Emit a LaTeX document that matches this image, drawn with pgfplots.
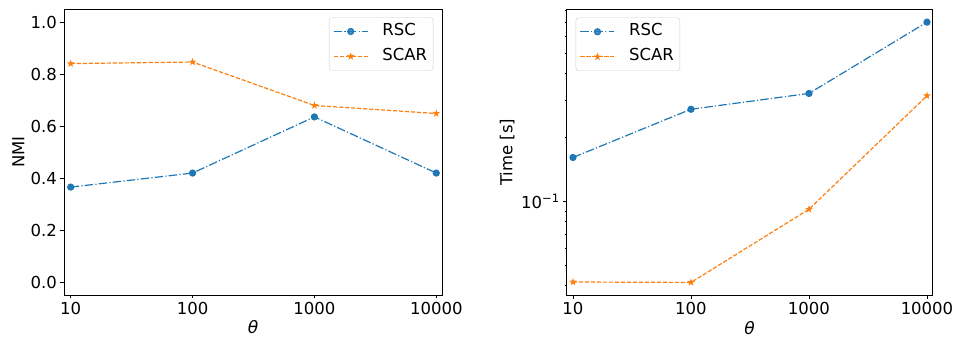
\documentclass[border=0pt]{standalone}
\usepackage{fontspec}
\setmainfont{DejaVu Sans}
\usepackage{pgfplots}
\pgfplotsset{compat=1.18}
\definecolor{tabblue}{HTML}{1F77B4}
\definecolor{taborange}{HTML}{FF7F0E}
\pgfdeclareplotmark{fstar}{%
 \pgfpathmoveto{\pgfpointpolar{90}{\pgfplotmarksize}}%
 \pgfpathlineto{\pgfpointpolar{126}{0.4\pgfplotmarksize}}%
 \pgfpathlineto{\pgfpointpolar{162}{\pgfplotmarksize}}%
 \pgfpathlineto{\pgfpointpolar{198}{0.4\pgfplotmarksize}}%
 \pgfpathlineto{\pgfpointpolar{234}{\pgfplotmarksize}}%
 \pgfpathlineto{\pgfpointpolar{270}{0.4\pgfplotmarksize}}%
 \pgfpathlineto{\pgfpointpolar{306}{\pgfplotmarksize}}%
 \pgfpathlineto{\pgfpointpolar{342}{0.4\pgfplotmarksize}}%
 \pgfpathlineto{\pgfpointpolar{18}{\pgfplotmarksize}}%
 \pgfpathlineto{\pgfpointpolar{54}{0.4\pgfplotmarksize}}%
 \pgfpathclose\pgfusepathqfillstroke}
\pgfplotsset{
 mystyle/.style={
  scale only axis, height=286pt,
  anchor=south west,
  axis line style={line width=0.8pt},
  tick align=outside, tick pos=left,
  major tick length=3.5pt, minor tick length=2pt,
  every tick/.style={black, line width=0.8pt},
  tick label style={font=\fontsize{16.5}{19}\selectfont},
  /pgf/number format/assume math mode=true,
  xmin=-0.055, xmax=3.047,
  xtick={0,1,2,3}, xticklabels={10,100,1000,10000},
  xlabel={\itshape θ},
  every axis x label/.style={at={(axis description cs:0.5,-0.136)}, anchor=base, font=\fontsize{17}{19}\selectfont},
  legend cell align=left,
  legend image code/.code={\draw[##1, mark repeat=2, mark phase=2] plot coordinates {(0pt,0pt) (17pt,0pt) (34pt,0pt)}; \path (46pt,0pt);},
  legend style={draw=black!20, rounded corners=3pt, fill=white, fill opacity=0.8, text opacity=1,
    font=\fontsize{16.5}{19}\selectfont, inner sep=4pt, row sep=5pt,
    nodes={inner sep=2pt, text height=12pt, text depth=4pt}},
 },
 rsc/.style={color=tabblue, line width=1.2pt, dash pattern=on 8.5pt off 2.2pt on 1.2pt off 2.2pt, mark=*, mark size=3pt, mark options={solid}},
 scar/.style={color=taborange, line width=1.2pt, dash pattern=on 4.2pt off 1.8pt, mark=fstar, mark size=2.2pt, mark options={solid}},
}
\begin{document}
\begin{tikzpicture}
\path[use as bounding box] (0,0) rectangle (956pt,339pt);
\begin{axis}[mystyle, at={(64pt,44pt)}, width=378pt,
  ymin=-0.05, ymax=1.05,
  ytick={0,0.2,0.4,0.6,0.8,1.0}, yticklabels={0.0,0.2,0.4,0.6,0.8,1.0},
  ylabel={NMI},
  every axis y label/.style={at={(axis description cs:-0.121,0.5)}, rotate=90, anchor=center, font=\fontsize{16.5}{19}\selectfont},
  legend style={at={(0.977,0.971)}, anchor=north east},
]
\addplot[rsc] coordinates {(0,0.365) (1,0.419) (2,0.635) (3,0.419)};
\addlegendentry{RSC}
\addplot[scar] coordinates {(0,0.840) (1,0.846) (2,0.679) (3,0.648)};
\addlegendentry{SCAR}
\end{axis}
\begin{axis}[mystyle, at={(566.7pt,43.7pt)}, width=365.6pt,
  xmin=-0.053, xmax=3.045,
  ymode=log, ymin=0.0360, ymax=0.806,
  ytick={0.1}, yticklabels={10\textsuperscript{−1}},
  minor ytick={0.04,0.05,0.06,0.07,0.08,0.09,0.2,0.3,0.4,0.5,0.6,0.7,0.8},
  ylabel={Time [s]},
  every axis y label/.style={at={(axis description cs:-0.163,0.5)}, rotate=90, anchor=center, font=\fontsize{16.5}{19}\selectfont},
  legend style={at={(0.0246,0.971)}, anchor=north west},
]
\addplot[rsc] coordinates {(0,0.161) (1,0.272) (2,0.323) (3,0.701)};
\addlegendentry{RSC}
\addplot[scar] coordinates {(0,0.0416) (1,0.0414) (2,0.0917) (3,0.315)};
\addlegendentry{SCAR}
\end{axis}
\end{tikzpicture}
\end{document}
